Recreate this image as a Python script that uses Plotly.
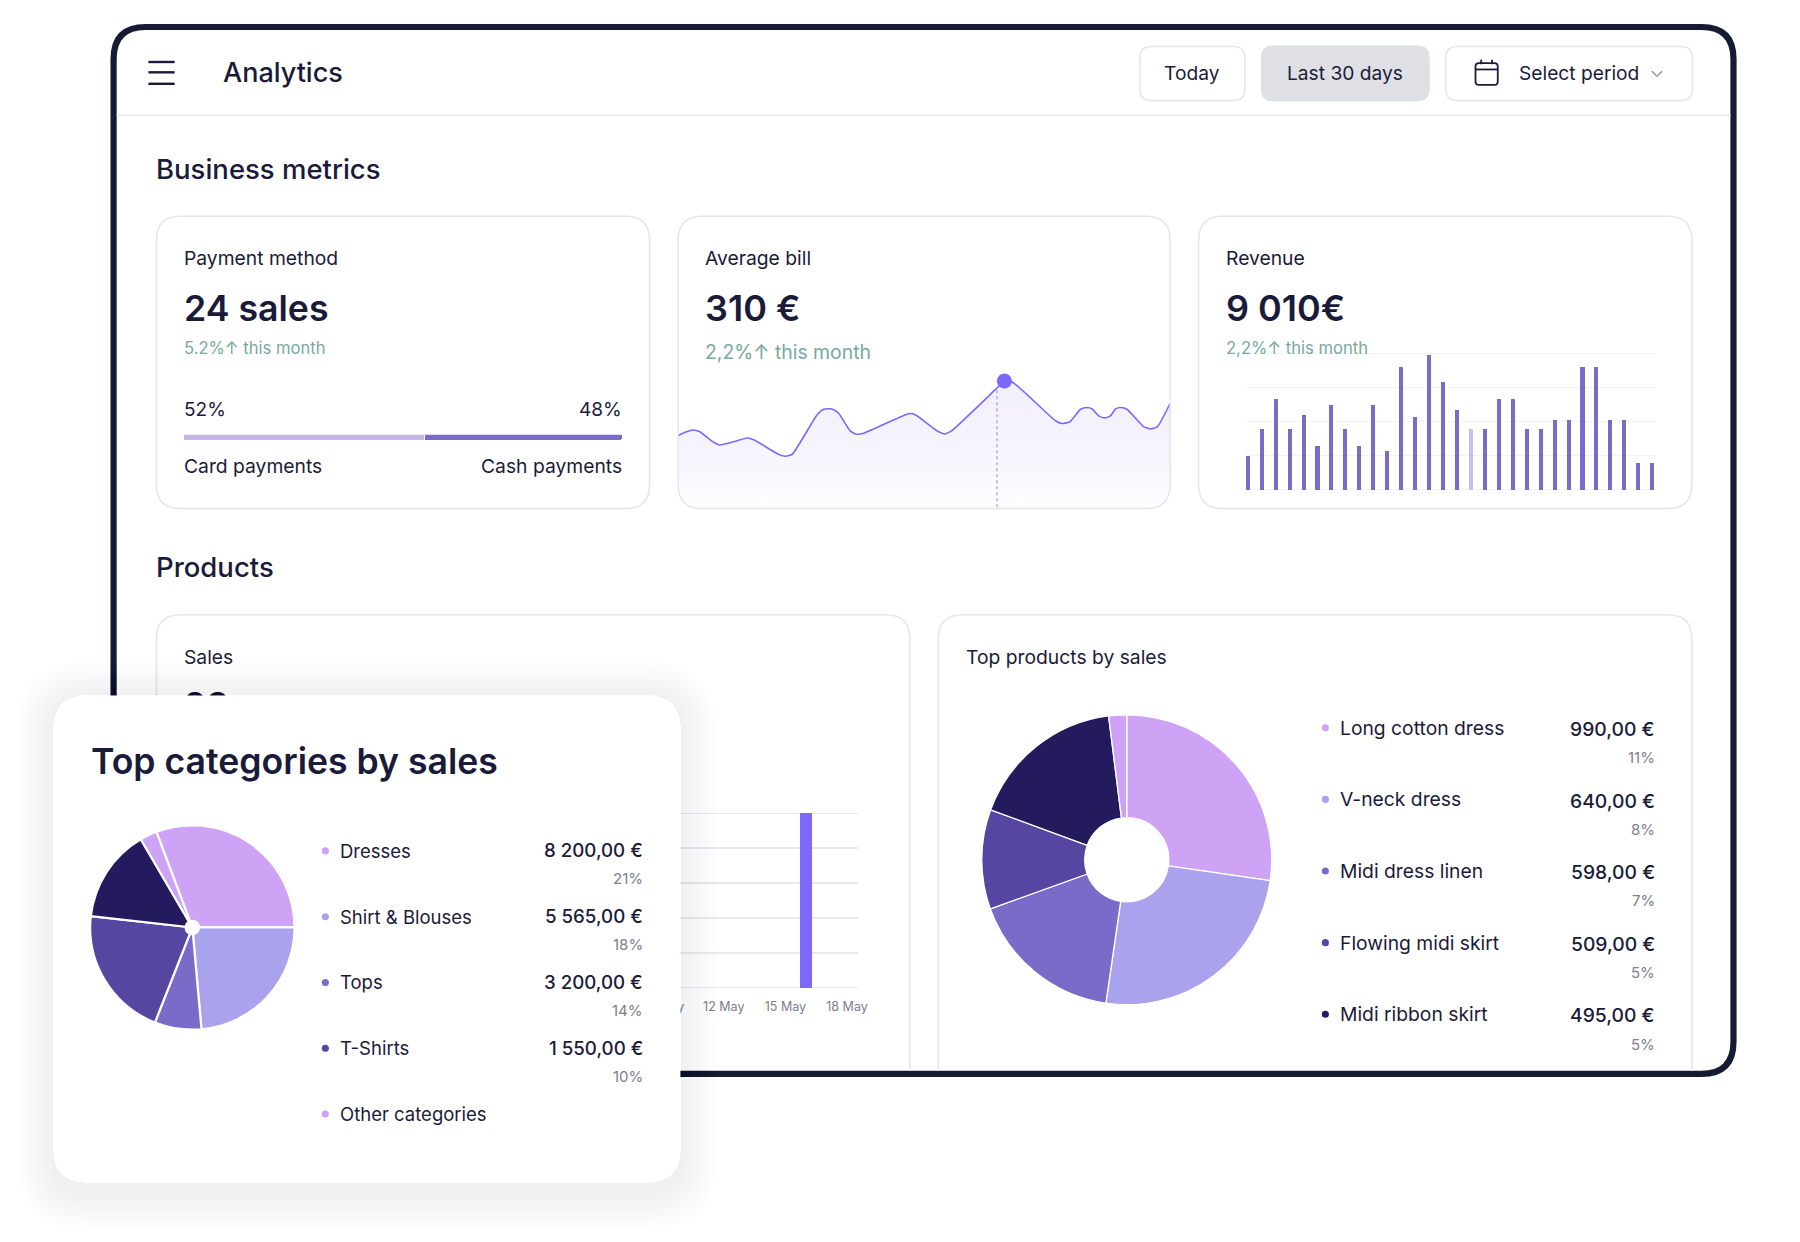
import plotly.graph_objects as go

# ---------- data ----------
bill_days = [0, 0.40, 0.91, 1.31, 2.12, 2.53, 3.13, 4.24, 4.65, 6.16, 6.57, 6.97, 8.48, 8.89, 9.39, 9.80, 10.5, 10.91, 11.31,
             13.84, 14.2, 14.54, 15.86, 16.26, 16.67, 19.39, 19.9, 20.4, 23.03, 23.43, 23.9, 24.54, 24.91, 25.25, 25.65,
             26.0, 26.36, 26.67, 27.0, 27.37, 28.38, 28.83, 29.23, 30]
bill_values = [72.3, 75.7, 78.3, 76.7, 66.7, 63.3, 65.3, 70.3, 68.3, 53.7, 52, 54, 93.3, 99, 99.3, 95, 77.3, 74, 75,
               93.3, 94.7, 92.7, 76.7, 74.3, 77.3, 119.3, 127.3, 126, 87.3, 84.7, 86.7, 99, 100.7, 99.3, 92.3,
               90.3, 92.3, 99.3, 100.7, 99, 81.7, 79.3, 81.7, 105]
bill_peak_day = 19.9
bill_peak_value = 127.3
bill_guide_day = 19.45

revenue_days = list(range(1, 31))
revenue_values = [100, 178, 267, 178, 220, 128, 250, 178, 128, 250, 115, 361, 214, 394, 316, 233, 178, 178, 267, 267,
                  178, 178, 206, 206, 361, 361, 206, 206, 78, 78]
revenue_muted_day = 17

payment_labels = ["Card payments", "Cash payments"]
payment_widths = [54.8, 45.2]
payment_shares = ["52%", "48%"]

sales_days = [16]
sales_values = [5]
sales_tick_days = [12, 15, 18]
sales_tick_labels = ["12 May", "15 May", "18 May"]
hidden_tick_day = 9
hidden_tick_label = "09 May"
sales_total = "23"

product_names = ["Long cotton dress", "V-neck dress", "Midi dress linen", "Flowing midi skirt", "Midi ribbon skirt"]
product_amounts = ["990,00 €", "640,00 €", "598,00 €", "509,00 €", "495,00 €"]
product_shares = ["11%", "8%", "7%", "5%", "5%"]
product_slices = [27.3, 25, 17.2, 11.1, 17.4, 2]

category_names = ["Dresses", "Shirt & Blouses", "Tops", "T-Shirts", "Other categories"]
category_amounts = ["8 200,00 €", "5 565,00 €", "3 200,00 €", "1 550,00 €", ""]
category_shares = ["21%", "18%", "14%", "10%", ""]
category_slices = [30.7, 23.6, 7.4, 20.8, 14.8, 2.7]

# ---------- style ----------
INK = "#1a1b3a"
FRAME = "#171a33"
EDGE = "#e5e5ec"
GREEN = "#78a9a0"
GREY = "#7d7d8c"
LILAC = "#cea2f5"
PERI = "#aaa2ec"
MID = "#7a6bc9"
DEEP = "#5645a1"
NAVY = "#241b5e"
VIOLET = "#7c68ff"
GRID = "#e8e8ef"
FONT = "Inter"
W, H = 1568.0, 1082.0


def dx(v):
    return v / W


def dy(v):
    return 1 - v / H


def rr_path(x0, y0, x1, y1, r, open_bottom=False):
    p = [
        f"M{dx(x0)},{dy(y1 if open_bottom else y1 - r)}",
        f"L{dx(x0)},{dy(y0 + r)}",
        f"Q{dx(x0)},{dy(y0)} {dx(x0 + r)},{dy(y0)}",
        f"L{dx(x1 - r)},{dy(y0)}",
        f"Q{dx(x1)},{dy(y0)} {dx(x1)},{dy(y0 + r)}",
        f"L{dx(x1)},{dy(y1 if open_bottom else y1 - r)}",
    ]
    if not open_bottom:
        p += [
            f"Q{dx(x1)},{dy(y1)} {dx(x1 - r)},{dy(y1)}",
            f"L{dx(x0 + r)},{dy(y1)}",
            f"Q{dx(x0)},{dy(y1)} {dx(x0)},{dy(y1 - r)}",
            "Z",
        ]
    return " ".join(p)


shapes = []


def box(x0, y0, x1, y1, r, fill="rgba(0,0,0,0)", line=EDGE, lw=1.5, open_bottom=False, layer="below"):
    shapes.append(dict(type="path", xref="paper", yref="paper", layer=layer,
                       path=rr_path(x0, y0, x1, y1, r, open_bottom), fillcolor=fill,
                       line=dict(color=line, width=lw)))


def seg(x0, y0, x1, y1, color, lw):
    shapes.append(dict(type="line", xref="paper", yref="paper", layer="below",
                       x0=dx(x0), y0=dy(y0), x1=dx(x1), y1=dy(y1), line=dict(color=color, width=lw)))


def dot(x, y, r, color):
    shapes.append(dict(type="circle", xref="paper", yref="paper", layer="below",
                       x0=dx(x - r), x1=dx(x + r), y0=dy(y - r), y1=dy(y + r),
                       fillcolor=color, line=dict(width=0)))


notes = []


def txt(x, y, s, size, color=INK, anchor="left", weight=400):
    notes.append(dict(x=dx(x), y=dy(y), xref="paper", yref="paper", text=s, showarrow=False,
                      xanchor=anchor, yanchor="middle", borderpad=0, borderwidth=0,
                      font=dict(family=FONT, size=size, color=color, weight=weight)))


# frame and header
box(99.5, 23.5, 1518.5, 935.5, 28, fill="#ffffff", line=FRAME, lw=6.2)
seg(102, 100.5, 1516, 100.5, EDGE, 1.4)
for hy in (54, 63, 73):
    seg(130, hy, 153, hy, INK, 2.4)
txt(195, 63, "Analytics", 27, weight=500)
box(998.5, 40.5, 1090.5, 87.5, 10)
box(1105, 40, 1252, 88, 10, fill="#dfe0e5", line="#dfe0e5", lw=1)
box(1266.5, 40.5, 1482.5, 87.5, 10)
txt(1044, 64, "Today", 19.2, anchor="center")
txt(1178, 64, "Last 30 days", 19.2, anchor="center")
txt(1331, 64, "Select period", 19.2)
box(1292.5, 55, 1312, 74, 3, line=INK, lw=1.8)
seg(1292.5, 60.5, 1312, 60.5, INK, 1.8)
seg(1297.5, 52, 1297.5, 56, INK, 1.8)
seg(1307, 52, 1307, 56, INK, 1.8)
seg(1447, 62, 1451.5, 66.5, "#8a8a98", 1.3)
seg(1451.5, 66.5, 1456, 62, "#8a8a98", 1.3)

# business metrics
txt(137, 147, "Business metrics", 27.5, weight=500)
box(137, 188.5, 569, 443, 21)
box(1050, 188.5, 1482, 443, 21)
txt(161, 225, "Payment method", 19.3)
txt(161, 268, "24 sales", 35.7, weight=600)
txt(161, 303, "5.2%↑ this month", 16.6, GREEN)
txt(161, 357, payment_shares[0], 19)
txt(545, 357, payment_shares[1], 19, anchor="right")
txt(161, 406, payment_labels[0], 19.3)
txt(545, 406, payment_labels[1], 19.3, anchor="right")
txt(618, 225, "Average bill", 19.3)
txt(618, 268, "310 €", 36, weight=600)
txt(618, 307, "2,2%↑ this month", 19.4, GREEN)
txt(1074, 225, "Revenue", 19.3)
txt(1074, 268, "9 010€", 36, weight=600)
txt(1074, 303, "2,2%↑ this month", 16.6, GREEN)

# average bill card sits over its gradient: corner masks, then the border
for cx, sx in ((594, 1), (1025, -1)):
    shapes.append(dict(type="path", xref="paper", yref="paper", layer="above", fillcolor="#ffffff", line=dict(width=0),
                       path=f"M{dx(cx)},{dy(443 - 21)} Q{dx(cx)},{dy(443)} {dx(cx + sx * 21)},{dy(443)} "
                            f"L{dx(cx)},{dy(443.6)} Z"))
box(594, 188.5, 1025, 443, 21, layer="above")

# products
txt(137, 494, "Products", 27.5, weight=500)
box(137, 535.5, 797, 933, 21, open_bottom=True)
box(822, 535.5, 1482, 933, 21, open_bottom=True)
txt(161, 572, "Sales", 19.3)
txt(846, 572, "Top products by sales", 19.3)
product_colors = [LILAC, PERI, MID, DEEP, NAVY]
for i, name in enumerate(product_names):
    y = 634 + i * 62.4
    dot(1161, y, 3.1, product_colors[i])
    txt(1174, y, name, 19.3)
    txt(1449.5, y + 1, product_amounts[i], 19.3, anchor="right", weight=500)
    txt(1449.5, y + 26, product_shares[i], 15, GREY, anchor="right")

# popup card and its soft shadow ring
box(47, 606, 596, 1030, 30, fill="#ffffff", line="#ffffff", lw=0)
inner = rr_path(47, 606, 596, 1030, 30)
for k in range(1, 16):
    e = k * 2.2
    shapes.append(dict(type="path", xref="paper", yref="paper", layer="above", fillrule="evenodd",
                       path=rr_path(47 - e, 606 - e + 2, 596 + e, 1030 + e + 9, 30 + e) + " " + inner,
                       fillcolor="rgba(30,30,60,0.0055)", line=dict(width=0)))
txt(79.3, 663.5, "Top categories by sales", 35.6, weight=600)
category_colors = [LILAC, PERI, MID, DEEP, LILAC]
for i, name in enumerate(category_names):
    y = 741.3 + i * 57.3
    dot(285, y, 3.1, category_colors[i])
    txt(297.5, y, name, 18.5)
    if category_amounts[i]:
        txt(563, y, category_amounts[i], 18.7, anchor="right", weight=500)
        txt(563, y + 24.4, category_shares[i], 15, GREY, anchor="right")

fig = go.Figure()

# progress bar
colors_pay = ["#c7b5ea", MID]
for lab, w, c in zip(payment_labels, payment_widths, colors_pay):
    fig.add_trace(go.Bar(x=[w], y=[0], orientation="h", width=1, name=lab,
                         marker=dict(color=c, line=dict(color="#ffffff", width=1), cornerradius=2),
                         xaxis="x", yaxis="y", hoverinfo="skip"))

# average bill line
fig.add_trace(go.Scatter(x=bill_days, y=bill_values, mode="lines", xaxis="x2", yaxis="y2", cliponaxis=False,
                         line=dict(color=VIOLET, width=1.6, shape="spline", smoothing=0.5),
                         fill="tozeroy",
                         fillgradient=dict(type="vertical",
                                           colorscale=[[0, "#fdfdff"], [0.55, "#f5f3fd"], [1, "#f2effd"]]),
                         hoverinfo="skip"))
fig.add_trace(go.Scatter(x=[bill_guide_day, bill_guide_day], y=[1, bill_peak_value - 8], mode="lines",
                         xaxis="x2", yaxis="y2", line=dict(color="#b3b1bf", width=1.5, dash="dot"), hoverinfo="skip"))
fig.add_trace(go.Scatter(x=[bill_peak_day], y=[bill_peak_value], mode="markers", xaxis="x2", yaxis="y2",
                         cliponaxis=False, marker=dict(color=VIOLET, size=15), hoverinfo="skip"))

# revenue bars
fig.add_trace(go.Bar(x=revenue_days, y=revenue_values, width=0.29, xaxis="x3", yaxis="y3",
                     marker=dict(color=["#c9bdea" if d == revenue_muted_day else MID for d in revenue_days],
                                 line=dict(width=0)), hoverinfo="skip"))

# sales bars
fig.add_trace(go.Bar(x=sales_days, y=sales_values, width=0.59, xaxis="x4", yaxis="y4",
                     marker=dict(color=VIOLET, line=dict(width=0)), hoverinfo="skip"))

# clipped texts behind the popup card
fig.add_trace(go.Scatter(x=[0], y=[-12], mode="text", text=[sales_total], textposition="middle right", xaxis="x5",
                         yaxis="y5", cliponaxis=True, hoverinfo="skip",
                         textfont=dict(family=FONT, size=36, color=INK, weight=600)))
fig.add_trace(go.Scatter(x=[hidden_tick_day], y=[0], mode="text", text=[hidden_tick_label], textposition="middle center",
                         xaxis="x6", yaxis="y6", cliponaxis=True, hoverinfo="skip",
                         textfont=dict(family=FONT, size=12.5, color=GREY)))

# pies
fig.add_trace(go.Pie(values=product_slices, sort=False, direction="clockwise", rotation=0, hole=0.29,
                     domain=dict(x=[dx(860), dx(1114)], y=[dy(876), dy(622)]), textinfo="none", hoverinfo="skip",
                     marker=dict(colors=[LILAC, PERI, MID, DEEP, NAVY, LILAC], line=dict(color="#ffffff", width=1.3))))
fig.add_trace(go.Pie(values=category_slices, sort=False, direction="clockwise", rotation=-20.6, hole=0.065,
                     domain=dict(x=[dx(79), dx(258)], y=[dy(897.5), dy(718.5)]), textinfo="none", hoverinfo="skip",
                     marker=dict(colors=[LILAC, PERI, MID, DEEP, NAVY, LILAC], line=dict(color="#ffffff", width=2.2))))


def hidden(domain, rng, **kw):
    d = dict(domain=domain, range=rng, visible=False, fixedrange=True)
    d.update(kw)
    return d


fig.update_layout(
    width=1800, height=1242, margin=dict(l=0, r=0, t=0, b=0, pad=0), autosize=False,
    paper_bgcolor="#ffffff", plot_bgcolor="rgba(0,0,0,0)", showlegend=False, barmode="stack", bargap=0,
    shapes=shapes, annotations=notes,
    xaxis=hidden([dx(161), dx(545)], [0, 100]),
    yaxis=hidden([dy(383.5), dy(378.5)], [-0.5, 0.5], anchor="x"),
    xaxis2=hidden([dx(593.8), dx(1025)], [0, 30], anchor="y2"),
    yaxis2=hidden([dy(442.8), dy(320.8)], [0, 140], anchor="x2"),
    xaxis3=hidden([dx(1090.3), dx(1451)], [0.78, 30.3], anchor="y3"),
    yaxis3=dict(domain=[dy(428.54), dy(306.06)], range=[-5.85, 405.85], tickvals=[0, 100, 200, 300, 400],
                showticklabels=False, gridcolor="#f3f3f7", gridwidth=1, zeroline=False, showline=False, ticks="",
                anchor="x3", fixedrange=True),
    xaxis4=dict(domain=[dx(596), dx(751.5)], range=[9.89, 18.53], tickvals=sales_tick_days, ticktext=sales_tick_labels,
                tickfont=dict(family=FONT, size=12.5, color=GREY), showgrid=False, zeroline=False, showline=False,
                ticks="", ticklabelstandoff=8, anchor="y4", fixedrange=True),
    yaxis4=dict(domain=[dy(862.2), dy(706.8)], range=[-0.055, 5.055], tickvals=[0, 1, 2, 3, 4, 5], showticklabels=False,
                gridcolor=GRID, gridwidth=1.3, zeroline=False, showline=False, ticks="", anchor="x4", fixedrange=True),
    xaxis5=hidden([dx(161), dx(330)], [0, 1], anchor="y5"),
    yaxis5=hidden([dy(606), dy(596)], [0, 10], anchor="x5"),
    xaxis6=hidden([dx(596), dx(615)], [9.89, 10.95], anchor="y6"),
    yaxis6=hidden([dy(888), dy(868)], [-1, 1], anchor="x6"),
)

fig.write_html("out.html", config=dict(displayModeBar=False, staticPlot=True),
               post_script="document.body.style.margin='0';document.body.style.overflow='hidden';")
